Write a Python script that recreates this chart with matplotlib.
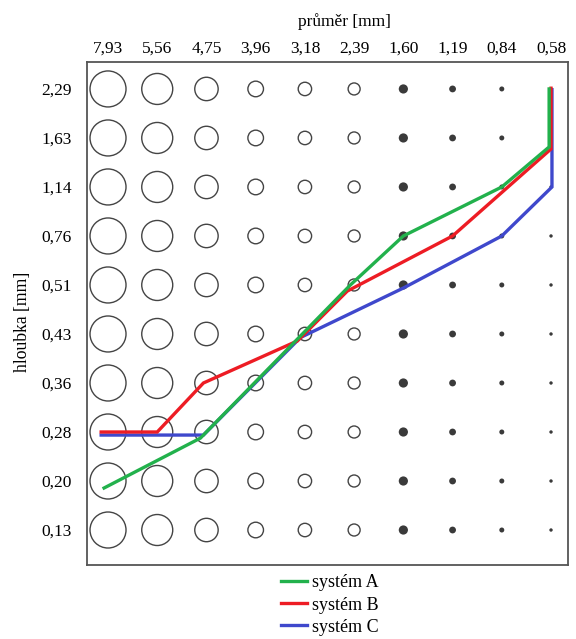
import numpy as np
import matplotlib
matplotlib.use("Agg")
import matplotlib.pyplot as plt

plt.rcParams['font.family'] = ['Liberation Serif', 'DejaVu Serif']

# ---- data ----
diameters = [7.93, 5.56, 4.75, 3.96, 3.18, 2.39, 1.60, 1.19, 0.84, 0.58]   # mm (columns)
depths = [0.13, 0.20, 0.28, 0.36, 0.43, 0.51, 0.76, 1.14, 1.63, 2.29]       # mm (rows)
diam_labels = ["7,93", "5,56", "4,75", "3,96", "3,18", "2,39", "1,60", "1,19", "0,84", "0,58"]
depth_labels = ["0,13", "0,20", "0,28", "0,36", "0,43", "0,51", "0,76", "1,14", "1,63", "2,29"]

sysA_d = [8.12, 4.85, 2.45, 1.60, 0.84, 0.59, 0.59]
sysA_h = [0.19, 0.27, 0.51, 0.76, 1.14, 1.54, 2.29]
sysB_d = [8.26, 5.56, 4.80, 3.30, 2.50, 1.19, 0.58, 0.58]
sysB_h = [0.28, 0.28, 0.36, 0.42, 0.50, 0.76, 1.52, 2.30]
sysC_d = [8.26, 4.80, 3.25, 1.60, 0.84, 0.575, 0.575]
sysC_h = [0.275, 0.275, 0.425, 0.505, 0.76, 1.14, 2.28]

# ---- style ----
marker_radius_px = [18, 15.5, 11.7, 7.8, 6.7, 6.0, 4.6, 3.4, 2.5, 1.7]
marker_filled = [False] * 6 + [True] * 4
DPI = 100


def to_pos(vals, cats):
    cats = np.asarray(cats, float)
    idx = np.arange(len(cats), dtype=float)
    order = np.argsort(cats)
    xp, fp = cats[order], idx[order]
    v = np.asarray(vals, float)
    out = np.interp(v, xp, fp)
    lo = v < xp[0]
    hi = v > xp[-1]
    out[lo] = fp[0] + (v[lo] - xp[0]) * (fp[1] - fp[0]) / (xp[1] - xp[0])
    out[hi] = fp[-1] + (v[hi] - xp[-1]) * (fp[-1] - fp[-2]) / (xp[-1] - xp[-2])
    return out


fig = plt.figure(figsize=(5.76, 6.39), dpi=DPI)
ax = fig.add_axes([87 / 576, 1 - 565 / 639, 481 / 576, 503 / 639])

xi = np.arange(len(diameters))
yi = np.arange(len(depths))
for j in range(len(diameters)):
    r_pt = marker_radius_px[j] * 72 / DPI
    s = (2 * r_pt) ** 2
    if marker_filled[j]:
        ax.scatter(np.full(len(depths), xi[j]), yi, s=s, color='#3a3a3a',
                   edgecolors='none', zorder=2)
    else:
        ax.scatter(np.full(len(depths), xi[j]), yi, s=s, facecolors='none',
                   edgecolors='#444444', linewidths=1.0, zorder=2)

lw = 2.4
ax.plot(to_pos(sysC_d, diameters), to_pos(sysC_h, depths), color='#3f48cc',
        lw=lw, zorder=3, label='systém C', solid_joinstyle='miter')
ax.plot(to_pos(sysB_d, diameters), to_pos(sysB_h, depths), color='#ed1c24',
        lw=lw, zorder=4, label='systém B', solid_joinstyle='miter')
ax.plot(to_pos(sysA_d, diameters), to_pos(sysA_h, depths), color='#22b14c',
        lw=lw, zorder=5, label='systém A', solid_joinstyle='miter')

ax.set_xlim(-0.427, 9.345)
ax.set_ylim(-0.714, 9.55)

ax.xaxis.tick_top()
ax.xaxis.set_label_position('top')
ax.set_xticks(xi)
ax.set_xticklabels(diam_labels, fontsize=12.5)
ax.set_yticks(yi)
ax.set_yticklabels(depth_labels, fontsize=12.5)
ax.tick_params(axis='x', length=0, pad=4)
ax.tick_params(axis='y', length=0, pad=11)

ax.set_xlabel('průměr [mm]', fontsize=12.5)
ax.xaxis.set_label_coords(0.536, 1.0 + 36 / 503)
ax.set_ylabel('hloubka [mm]', fontsize=12.7)
ax.yaxis.set_label_coords(-56 / 481, 0.483)

for sp in ax.spines.values():
    sp.set_color('#555555')
    sp.set_linewidth(1.3)

h, l = ax.get_legend_handles_labels()
order = [2, 1, 0]
fig.legend([h[i] for i in order], [l[i] for i in order], loc='center',
           bbox_to_anchor=(330 / 576, 1 - 605 / 639), frameon=False,
           fontsize=13, handlelength=1.45, handletextpad=0.3,
           labelspacing=0.28, borderpad=0)

fig.savefig('out.png', dpi=DPI)
